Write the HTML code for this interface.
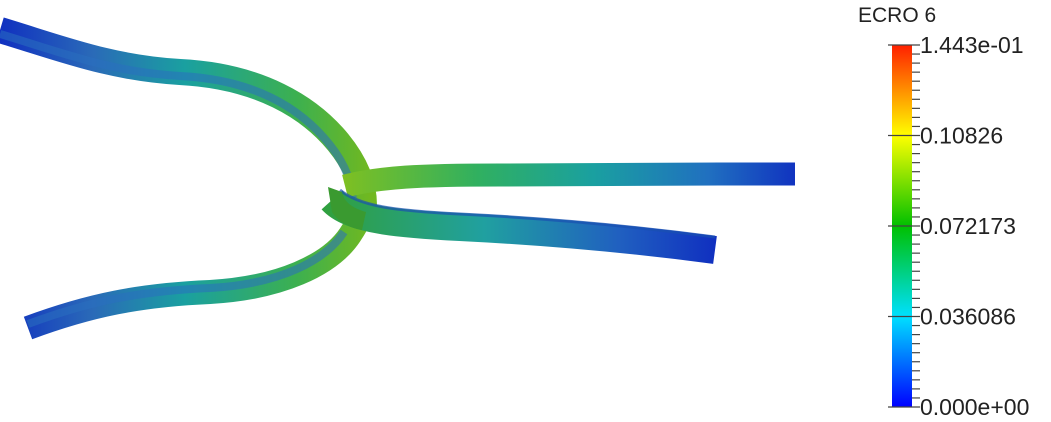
<!DOCTYPE html>
<html><head><meta charset="utf-8"><style>
body{margin:0;background:#fff;}
svg{display:block;font-family:"Liberation Sans",sans-serif;}
</style></head><body>
<svg width="1051" height="422" viewBox="0 0 1051 422">
<defs>
<linearGradient id="gUL" gradientUnits="userSpaceOnUse" x1="0" y1="0" x2="370" y2="0">
<stop offset="0" stop-color="#1030c0"/><stop offset="0.25" stop-color="#2a6ab8"/><stop offset="0.5" stop-color="#1aa0a0"/><stop offset="0.8" stop-color="#3cb050"/><stop offset="1" stop-color="#70b820"/></linearGradient>
<linearGradient id="gR1" gradientUnits="userSpaceOnUse" x1="340" y1="0" x2="800" y2="0">
<stop offset="0" stop-color="#80c020"/><stop offset="0.3" stop-color="#30b060"/><stop offset="0.55" stop-color="#1aa0a0"/><stop offset="0.8" stop-color="#2070c0"/><stop offset="1" stop-color="#1030c0"/></linearGradient>
<linearGradient id="gR2" gradientUnits="userSpaceOnUse" x1="330" y1="0" x2="715" y2="0">
<stop offset="0" stop-color="#30a040"/><stop offset="0.4" stop-color="#20a0a0"/><stop offset="0.75" stop-color="#2060c0"/><stop offset="1" stop-color="#1030c0"/></linearGradient>
<linearGradient id="cbar" x1="0" y1="1" x2="0" y2="0">
<stop offset="0" stop-color="#0000ff"/><stop offset="0.25" stop-color="#00e0ff"/><stop offset="0.5" stop-color="#00c000"/><stop offset="0.75" stop-color="#ffff00"/><stop offset="1" stop-color="#ff2000"/></linearGradient>
</defs>
<g fill="none" stroke-linecap="butt">
<path d="M0,30 C60,48 110,68 180,72 C260,76 310,108 338,142 C356,164 364,185 364,205" stroke="url(#gUL)" stroke-width="26"/>
<path d="M0,34 C60,52 110,72 180,76 C260,80 304,112 330,145 C346,165 353,185 353,205" stroke="#2a70c0" stroke-width="8" opacity="0.55"/>
</g>
<g fill="none">
<path d="M28,328 C90,305 140,295 210,292 C280,288 330,265 350,235 C360,220 364,210 364,198" stroke="url(#gUL)" stroke-width="24"/>
<path d="M28,324 C90,301 140,291 210,288 C280,284 325,261 344,232" stroke="#2a70c0" stroke-width="8" opacity="0.55"/>
</g>
<g fill="none">
<path d="M345,186 C380,177 420,175 500,175 C620,174 700,174 795,174" stroke="url(#gR1)" stroke-width="23"/>
</g>
<g fill="none">
<path d="M332,200 C350,220 400,224 460,227 C560,232 640,240 715,250" stroke="url(#gR2)" stroke-width="28"/>
<path d="M340,190 C360,207 400,211 460,214 C560,219 640,227 715,237" stroke="#1a50b0" stroke-width="3" opacity="0.7"/>
</g>
<path d="M328,187 L332,212 C338,222 350,228 362,230 L366,212 C352,208 344,202 342,192 Z" fill="#3a9a30"/>
<g>
<text x="858" y="22" font-size="21" fill="#222">ECRO 6</text>
<rect x="892" y="45" width="20" height="362" fill="url(#cbar)"/>
<g id="ticks" stroke="#444" stroke-width="1.2"></g>
<g id="labels" font-size="23" fill="#222"></g>
</g>
</svg>
<script>
const tickLabels=["1.443e-01","0.10826","0.072173","0.036086","0.000e+00"];
const tickValues=[0.1443,0.10826,0.072173,0.036086,0];
const vmax=0.1443;
const y=v=>407-(v/vmax)*362;
const tg=document.getElementById('ticks'),lg=document.getElementById('labels');
const ns="http://www.w3.org/2000/svg";
for(let i=0;i<=40;i++){
 const l=document.createElementNS(ns,'line');
 const yy=45+i*362/40;
 const major=i%10===0;
 l.setAttribute('x1',major?888:912);l.setAttribute('x2',920);
 l.setAttribute('y1',yy);l.setAttribute('y2',yy);
 
 
 tg.appendChild(l);
}
tickLabels.forEach((s,i)=>{
 const t=document.createElementNS(ns,'text');
 t.setAttribute('x',920);t.setAttribute('y',y(tickValues[i])+8);
 t.textContent=s;
 
 
 lg.appendChild(t);
});
</script>
</body></html>
